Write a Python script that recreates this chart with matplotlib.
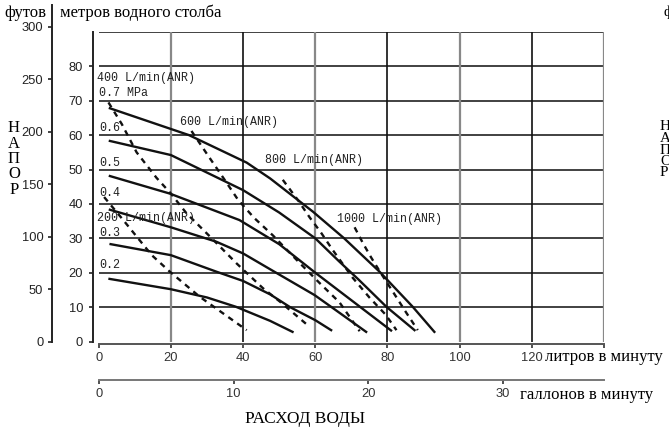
import matplotlib
matplotlib.use("Agg")
import matplotlib.pyplot as plt

W, H = 669, 432

# --- pressure curves: water flow (L/min) vs head (m) ---
flow_02 = [3.0, 20, 30, 38, 47.5, 53.7]
head_02 = [18.2, 15.2, 12.8, 10.1, 6.0, 2.8]
flow_03 = [3.3, 20, 32.6, 40, 47.5, 53, 60, 64.4]
head_03 = [28.3, 25.1, 20.3, 17.6, 13.7, 10.0, 6.2, 3.3]
flow_04 = [3.1, 20, 32.6, 40, 47.5, 59.8, 64.5, 74.1]
head_04 = [38.3, 33.2, 29.0, 25.6, 21.0, 13.5, 10.0, 2.8]
flow_05 = [3.1, 19.7, 39, 50, 60, 72.5, 81]
head_05 = [48.1, 43.0, 35.3, 28.3, 20.0, 10.0, 3.2]
flow_06 = [3.1, 20, 40, 50, 60, 66.7, 72, 79.7, 87.5]
head_06 = [58.3, 54.2, 44.0, 37.5, 30.0, 23.2, 18.0, 10.1, 3.3]
flow_07 = [3.1, 25, 41, 47.5, 59.4, 68, 77.8, 87, 93]
head_07 = [67.8, 60.0, 52.0, 47.4, 37.7, 30.0, 20.3, 10.1, 2.8]

# --- air consumption lines (dashed) ---
air_200_flow = [1.5, 6.8, 14.7, 19.7, 28, 41]
air_200_head = [42.0, 35.3, 25.1, 20.3, 13.0, 3.3]
air_400_flow = [2.7, 6.4, 10.5, 16, 20, 24.3, 31.7, 38.2, 45.5, 50.2, 58.5]
air_400_head = [69.5, 63.2, 55.0, 47.6, 43.0, 37.3, 29.6, 22.7, 15.5, 11.6, 4.2]
air_600_flow = [25.7, 30, 34.5, 38.6, 43, 48.3, 55.7, 61.2, 66.7, 72.3]
air_600_head = [61.2, 54.5, 47.6, 41.2, 36.0, 30.8, 22.8, 17.0, 11.4, 3.0]
air_800_flow = [51, 55.2, 58.5, 61.5, 64.7, 70.4, 75, 79.5, 82.5]
air_800_head = [47.0, 41.1, 36.0, 31.8, 26.8, 18.5, 12.8, 7.8, 3.3]
air_1000_flow = [70.9, 73.2, 75.5, 77.8, 82.4, 85.2, 88.4]
air_1000_head = [33.2, 28.6, 24.4, 20.5, 13.0, 8.4, 3.3]

pressure_curves = [(flow_02, head_02), (flow_03, head_03), (flow_04, head_04),
                   (flow_05, head_05), (flow_06, head_06), (flow_07, head_07)]
air_curves = [(air_200_flow, air_200_head), (air_400_flow, air_400_head),
              (air_600_flow, air_600_head), (air_800_flow, air_800_head),
              (air_1000_flow, air_1000_head)]

# curve labels: (text, x, y) in data units
curve_labels = [
    ("400 L/min(ANR)", -0.5, 76.6), ("0.7 MPa", 0.1, 72.1),
    ("0.6", 0.1, 62.0), ("0.5", 0.1, 51.9), ("0.4", 0.1, 43.2),
    ("200 L/min(ANR)", -0.5, 35.8), ("0.3", 0.1, 31.5), ("0.2", 0.1, 22.2),
    ("600 L/min(ANR)", 22.5, 63.7), ("800 L/min(ANR)", 46.0, 52.8),
    ("1000 L/min(ANR)", 66.0, 35.6),
]

m_ticks = [0, 10, 20, 30, 40, 50, 60, 70, 80]
ft_ticks = [0, 50, 100, 150, 200, 250, 300]
lpm_ticks = [0, 20, 40, 60, 80, 100, 120, 140]
lpm_labels = ["0", "20", "40", "60", "80", "100", "120", ""]
gpm_ticks = [0, 10, 20, 30]

NARROW = ["Liberation Sans Narrow", "Liberation Sans", "DejaVu Sans"]
SERIF = ["Liberation Serif", "DejaVu Serif"]
MONO = ["Liberation Mono", "DejaVu Sans Mono"]
TICK_SIZE = 9.3

fig = plt.figure(figsize=(W / 100, H / 100), dpi=100)


def px_axes(left, top, right, bottom):
    return fig.add_axes([left / W, 1 - bottom / H, (right - left) / W, (bottom - top) / H])


def ftext(x, y, s, **kw):
    fig.text(x / W, 1 - y / H, s, **kw)


# main chart
ax = px_axes(98.7, 31.9, 604, 341.5)
ax.set_xlim(0, 140)
ax.set_ylim(0, 90)
ax.patch.set_alpha(0)
for s in ("top", "right"):
    ax.spines[s].set_visible(False)
ax.spines["left"].set_position(("outward", 3.9))
ax.spines["left"].set_color("#222")
ax.spines["left"].set_linewidth(1.4)
ax.spines["bottom"].set_position(("outward", 2.0))
ax.spines["bottom"].set_color("#555")
ax.spines["bottom"].set_linewidth(1.4)
ax.set_yticks(m_ticks)
ax.set_xticks(lpm_ticks)
ax.set_xticklabels(lpm_labels)
ax.tick_params(axis="y", direction="out", length=3, width=1.2, pad=4.3, colors="#222")
ax.tick_params(axis="x", direction="out", length=3, width=1.2, pad=2.5, colors="#333")
for lab in ax.get_xticklabels() + ax.get_yticklabels():
    lab.set_family(NARROW)
    lab.set_fontsize(TICK_SIZE)

for y in range(10, 100, 10):
    ax.axhline(y, color="#333", lw=1.3, zorder=1)
for x in range(20, 160, 20):
    dark = x % 40 == 0
    ax.axvline(x, color="#111" if dark else "#888", lw=1.2 if dark else 1.6, zorder=1)

for fl, hd in pressure_curves:
    ax.plot(fl, hd, color="#111", lw=1.7, zorder=3)
for fl, hd in air_curves:
    ax.plot(fl, hd, color="#111", lw=1.7, ls=(0, (2.4, 2.2)), zorder=3)

for txt, x, y in curve_labels:
    ax.text(x, y, txt, family=MONO, fontsize=8.4, va="center", ha="left",
            color="#222", zorder=4)

# feet scale
fa = px_axes(51.7, 5, 52.7, 341.5)
fa.set_ylim(0, 336.5 / 1.0485)
fa.set_xticks([])
fa.set_yticks(ft_ticks)
fa.patch.set_alpha(0)
for s in ("top", "right", "bottom"):
    fa.spines[s].set_visible(False)
fa.spines["left"].set_color("#222")
fa.spines["left"].set_linewidth(1.4)
fa.tick_params(axis="y", direction="out", length=3, width=1.2, pad=3.0, colors="#222")
for lab in fa.get_yticklabels():
    lab.set_family(NARROW)
    lab.set_fontsize(TICK_SIZE)

# gallons scale
ga = px_axes(99, 379, 604, 380)
ga.set_xlim(0, 505 / 13.46)
ga.set_yticks([])
ga.set_xticks(gpm_ticks)
ga.patch.set_alpha(0)
for s in ("top", "right", "left"):
    ga.spines[s].set_visible(False)
ga.spines["bottom"].set_color("#777")
ga.spines["bottom"].set_linewidth(1.4)
ga.tick_params(axis="x", direction="out", length=3, width=1.2, pad=2.5, colors="#333")
for lab in ga.get_xticklabels():
    lab.set_family(NARROW)
    lab.set_fontsize(TICK_SIZE)

# titles and units
ftext(4, 13, "футов", family=SERIF, fontsize=12, va="center")
ftext(60, 13, "метров водного столба", family=SERIF, fontsize=12, va="center")
ftext(545, 357, "литров в минуту", family=SERIF, fontsize=12, va="center")
ftext(520, 395, "галлонов в минуту", family=SERIF, fontsize=12, va="center")
ftext(305, 419, "РАСХОД ВОДЫ", family=SERIF, fontsize=12.5, va="center", ha="center")

for ch, y in zip("НАПОР", [128, 143.5, 159, 174.5, 190]):
    ftext(14, y, ch, family=SERIF, fontsize=12, va="center", ha="center")
for ch, y in zip("НАПОР", [127, 138.5, 150, 161.5, 173]):
    ftext(660, y, ch, family=SERIF, fontsize=11, va="center", ha="left")
ftext(664, 12, "ф", family=SERIF, fontsize=11, va="center", ha="left")

fig.savefig("out.png", dpi=100)
